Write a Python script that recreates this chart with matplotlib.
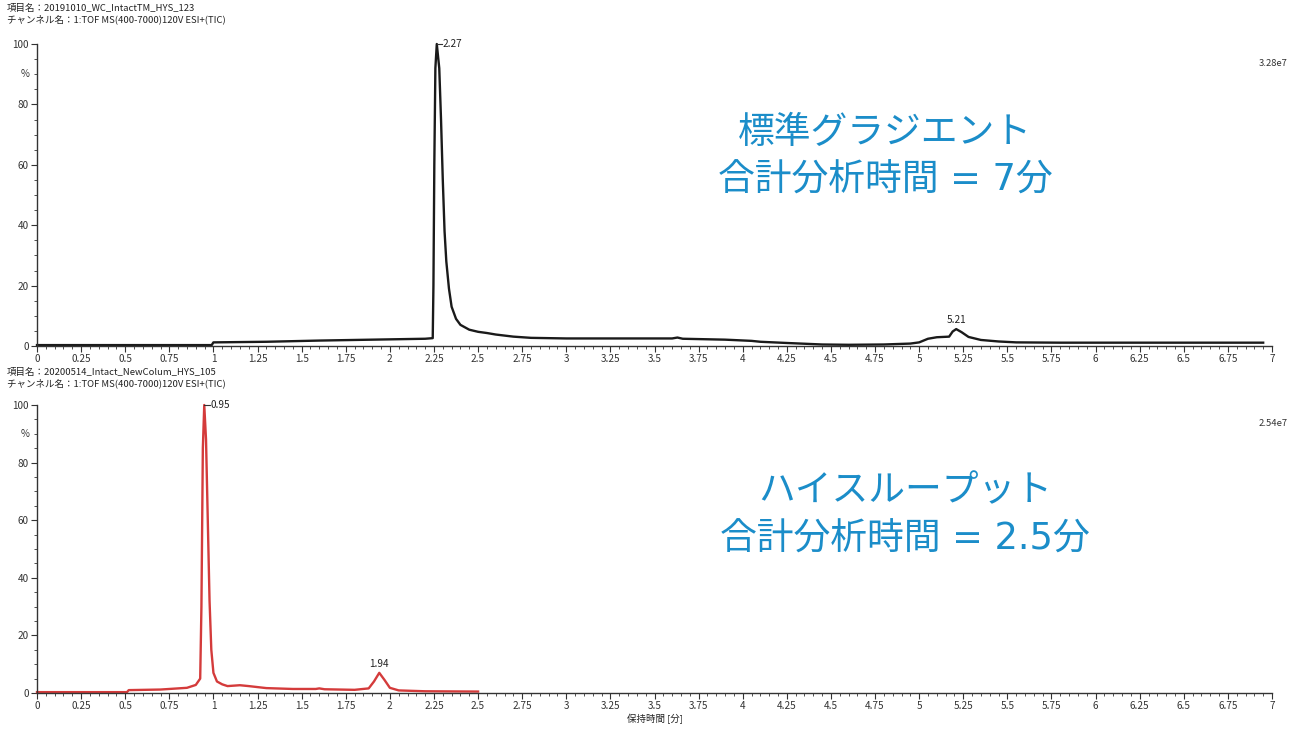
import matplotlib
matplotlib.use("Agg")
import matplotlib.pyplot as plt
from matplotlib.ticker import MultipleLocator, FixedLocator

plt.rcParams['font.family'] = ['Noto Sans CJK JP', 'DejaVu Sans']

# top trace (standard gradient), retention time [min] vs %
t_std = [0.0, 0.99, 1.0, 1.3, 1.6, 1.9, 2.2, 2.243, 2.247, 2.252, 2.258, 2.266,
         2.28, 2.29, 2.30, 2.31, 2.32, 2.335, 2.35, 2.375, 2.40, 2.45, 2.5, 2.55,
         2.6, 2.7, 2.8, 3.0, 3.25, 3.5, 3.6, 3.63, 3.66, 3.9, 4.05, 4.1, 4.25,
         4.45, 4.6, 4.8, 4.95, 5.0, 5.05, 5.1, 5.17, 5.19, 5.21, 5.24, 5.28,
         5.35, 5.45, 5.55, 5.8, 6.95]
i_std = [0.3, 0.3, 1.2, 1.4, 1.8, 2.1, 2.4, 2.6, 20, 60, 92, 100,
         92, 75, 55, 38, 28, 19, 13, 9, 7, 5.4, 4.7, 4.3,
         3.8, 3.1, 2.7, 2.5, 2.5, 2.5, 2.5, 2.8, 2.4, 2.1, 1.7, 1.4, 1.0,
         0.5, 0.4, 0.5, 0.8, 1.2, 2.4, 2.9, 3.1, 4.8, 5.6, 4.6, 3.0,
         2.0, 1.5, 1.2, 1.1, 1.1]

# bottom trace (high throughput)
t_ht = [0.0, 0.51, 0.52, 0.7, 0.85, 0.9, 0.925, 0.932, 0.940, 0.948, 0.958,
        0.968, 0.978, 0.988, 1.0, 1.02, 1.05, 1.08, 1.15, 1.2, 1.3, 1.45, 1.58,
        1.6, 1.63, 1.8, 1.88, 1.91, 1.94, 1.97, 2.0, 2.05, 2.2, 2.5]
i_ht = [0.3, 0.3, 1.0, 1.2, 1.8, 2.8, 5, 30, 85, 100, 88,
        60, 32, 15, 7, 4, 3.0, 2.4, 2.7, 2.4, 1.7, 1.4, 1.4,
        1.6, 1.3, 1.1, 1.6, 4.0, 7.0, 4.5, 1.8, 0.9, 0.6, 0.5]

panels = [
    dict(t=t_std, i=i_std, color='#1a1a1a',
         head=['項目名：20191010_WC_IntactTM_HYS_123',
               'チャンネル名：1:TOF MS(400-7000)120V ESI+(TIC)'],
         scale='3.28e7', apex=(2.266, '2.27'), small=[(5.21, 5.6, '5.21')],
         title=['標準グラジエント', '合計分析時間 = 7分'], tx=885, ty=[132, 180],
         rect=[37, 44, 346], head_y=[8, 19], scale_y=64),
    dict(t=t_ht, i=i_ht, color='#d43b3b',
         head=['項目名：20200514_Intact_NewColum_HYS_105',
               'チャンネル名：1:TOF MS(400-7000)120V ESI+(TIC)'],
         scale='2.54e7', apex=(0.948, '0.95'), small=[(1.94, 7.0, '1.94')],
         title=['ハイスループット', '合計分析時間 = 2.5分'], tx=905, ty=[491, 539],
         rect=[37, 405, 693], head_y=[372, 383], scale_y=424),
]

W, H = 1299, 732
fig = plt.figure(figsize=(W / 100, H / 100), dpi=100)
blue = '#1b8dc9'

for k, p in enumerate(panels):
    x0, ytop, ybot = p['rect']
    ax = fig.add_axes([x0 / W, 1 - ybot / H, (1272 - x0) / W, (ybot - ytop) / H])
    ax.plot(p['t'], p['i'], color=p['color'], lw=1.7, clip_on=False)
    ax.set_xlim(0, 7)
    ax.set_ylim(0, 100)
    for s in ['top', 'right']:
        ax.spines[s].set_visible(False)
    for s in ['left', 'bottom']:
        ax.spines[s].set_color('#333333')
        ax.spines[s].set_linewidth(1.0)
    ax.xaxis.set_major_locator(MultipleLocator(0.25))
    ax.xaxis.set_minor_locator(MultipleLocator(0.05))
    ax.yaxis.set_major_locator(FixedLocator([0, 20, 40, 60, 80, 100]))
    ax.yaxis.set_minor_locator(MultipleLocator(5))
    ax.xaxis.set_major_formatter(plt.FuncFormatter(lambda v, _: f'{v:g}'))
    ax.tick_params(which='major', length=4, width=0.8, labelsize=7.2, colors='#333333', pad=2)
    ax.tick_params(which='minor', length=2, width=0.6, colors='#333333')

    ax.text(-0.006, 90, '%', transform=ax.get_yaxis_transform(),
            ha='right', va='center', fontsize=7, color='#333333')

    ax_x, label = p['apex']
    ax.plot([ax_x, ax_x + 0.03], [100, 100], color='#333333', lw=0.8, clip_on=False)
    ax.text(ax_x + 0.035, 100, label, ha='left', va='center', fontsize=7.2, color='#222222')
    for sx, sy, lab in p['small']:
        ax.text(sx, sy + 1.5, lab, ha='center', va='bottom', fontsize=7.2, color='#222222')

    for j, line in enumerate(p['head']):
        fig.text(7 / W, 1 - p['head_y'][j] / H, line, ha='left', va='center',
                 fontsize=6.8, color='#222222')
    fig.text(1288 / W, 1 - p['scale_y'] / H, p['scale'], ha='right', va='center',
             fontsize=6.8, color='#333333')
    for j, line in enumerate(p['title']):
        fig.text(p['tx'] / W, 1 - p['ty'][j] / H, line, ha='center', va='center',
                 fontsize=26.5, color=blue, family=['DejaVu Sans', 'Noto Sans CJK JP'])

    if k == 1:
        ax.set_xlabel('保持時間 [分]', fontsize=6.8, color='#222222', labelpad=2)

fig.savefig('out.png', dpi=100, facecolor='white')
